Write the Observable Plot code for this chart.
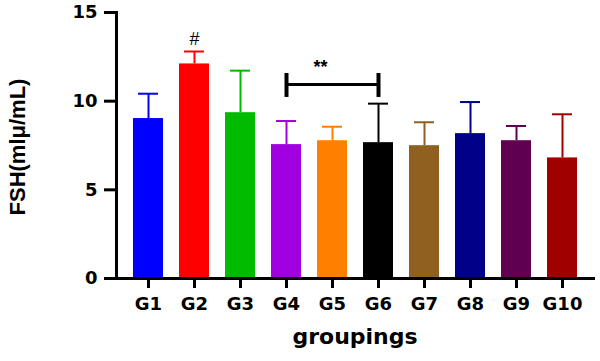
<!DOCTYPE html>
<html><head><meta charset="utf-8">
<script src="https://cdn.jsdelivr.net/npm/d3@7"></script>
<script src="https://cdn.jsdelivr.net/npm/@observablehq/plot@0.6"></script>
<style>html,body{margin:0;padding:0;background:#fff}#chart svg{display:block}</style>
</head><body><div id="chart"></div>
<script>
const groups = ["G1","G2","G3","G4","G5","G6","G7","G8","G9","G10"];
const means  = [9.02, 12.1, 9.35, 7.55, 7.77, 7.66, 7.49, 8.17, 7.77, 6.80];
const upper  = [10.42, 12.8, 11.72, 8.88, 8.56, 9.86, 8.81, 9.95, 8.60, 9.26];
const colors = ["#0000ff","#ff0000","#00bb00","#a100e0","#ff8000","#000000","#8f601f","#000088","#600050","#a00000"];
const yTicks = [0, 5, 10, 15];
const yTitle = "FSH(mlμ/mL)";
const xTitle = "groupings";
const bracketFrom = "G4", bracketTo = "G6";
const bracketY = 10.94, bracketLow = 10.21, bracketHigh = 11.56;
const starLabel = "**", starGroup = "G5", starY = 11.94;
const hashLabel = "#", hashGroup = "G2", hashY = 13.49;

const data = groups.map((g, i) => ({group: g, mean: means[i], upper: upper[i]}));

const plot = Plot.plot({
  width: 600, height: 361,
  marginLeft: 116, marginRight: 7, marginTop: 12, marginBottom: 83,
  x: {domain: groups, paddingInner: 0.3525, paddingOuter: 0.317, axis: null},
  y: {domain: [0, 15], axis: null},
  color: {domain: groups, range: colors},
  style: {fontFamily: "DejaVu Sans", background: "white", color: "black"},
  marks: [
    Plot.barY(data, {x: "group", y: "mean", fill: "group"}),
    Plot.ruleX(data, {x: "group", y1: "mean", y2: "upper", stroke: "group", strokeWidth: 2}),
    Plot.tickY(data, {x: "group", y: "upper", stroke: "group", strokeWidth: 2, insetLeft: 5, insetRight: 5}),
    Plot.frame({anchor: "left", strokeWidth: 3}),
    Plot.frame({anchor: "bottom", strokeWidth: 3}),
    Plot.axisY({ticks: yTicks, tickSize: 12, tickPadding: 7, strokeWidth: 3, fontSize: 18, fontWeight: "bold", label: null}),
    Plot.axisX({tickSize: 10, tickPadding: 9, strokeWidth: 3, fontSize: 18, fontWeight: "bold", label: null}),
    Plot.link([{a: bracketFrom, b: bracketTo, y: bracketY}], {x1: "a", x2: "b", y1: "y", y2: "y", strokeWidth: 3}),
    Plot.ruleX([bracketFrom, bracketTo], {x: d => d, y1: () => bracketLow, y2: () => bracketHigh, strokeWidth: 4}),
    Plot.text([{g: starGroup, y: starY, t: starLabel}], {x: "g", y: "y", text: "t", dx: -12, fontSize: 18, fontWeight: "bold", fontFamily: "Liberation Sans"}),
    Plot.text([{g: hashGroup, y: hashY, t: hashLabel}], {x: "g", y: "y", text: "t", fontSize: 18, fontFamily: "Liberation Sans"}),
    Plot.text([yTitle], {text: d => d, frameAnchor: "left", textAnchor: "middle", lineAnchor: "middle", dx: -99, dy: 1.5, rotate: -90, fontSize: 22, fontWeight: "bold", fontFamily: "Liberation Sans"}),
    Plot.text([xTitle], {text: d => d, frameAnchor: "bottom", textAnchor: "middle", lineAnchor: "middle", dy: 58, fontSize: 22, fontWeight: "bold"})
  ]
});
document.getElementById("chart").appendChild(plot);
</script>
</body></html>
